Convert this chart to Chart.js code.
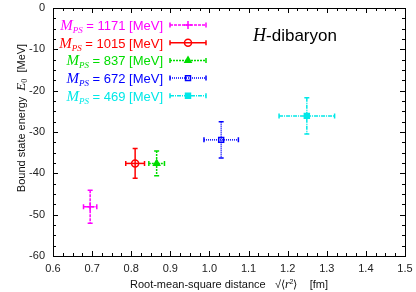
<!DOCTYPE html>
<html lang="en">
<head>
<meta charset="UTF-8">
<title>H-dibaryon bound state energy</title>
<script src="https://cdn.jsdelivr.net/npm/chart.js"></script>
<style>
    body { margin: 0; background: #fff; }
    #wrap { width: 416px; height: 292px; }
</style>
</head>
<body>
<div id="wrap"><canvas id="chart"></canvas></div>
<script>
    // values
    const masses = [1171, 1015, 837, 672, 469];           // M_PS [MeV]
    const rmsDist = [0.695, 0.810, 0.865, 1.030, 1.249];  // sqrt(<r^2>) [fm]
    const rmsErr = [0.017, 0.024, 0.020, 0.044, 0.071];
    const energy = [-48.1, -37.6, -37.6, -31.9, -26.1];   // E0 [MeV]
    const energyErr = [4.0, 3.6, 3.0, 4.4, 4.4];
    const xTicks = [0.6, 0.7, 0.8, 0.9, 1.0, 1.1, 1.2, 1.3, 1.4, 1.5];
    const yTicks = [-60, -50, -40, -30, -20, -10, 0];

    const colors = ['#ff00ff', '#ff0000', '#00dd00', '#0000ff', '#00e8e8'];
    const markers = ['cross', 'circle', 'triangle', 'rect', 'rect'];
    const filled = [false, false, true, false, true];
    const dashes = [[3, 1], [], [2, 1], [1, 1], [4, 1, 1, 1]];

    const SANS = '"Liberation Sans", Arial, sans-serif';
    const SERIF = '"Liberation Serif", "Times New Roman", serif';

    function markerOpts(i) {
        return {
            pointStyle: markers[i],
            radius: markers[i] === 'cross' ? 4 : 3.5,
            borderWidth: 1.5,
            rotation: 0
        };
    }

    // draws pieces of text with different fonts one after the other
    function drawRuns(ctx, runs, x, y, align, color) {
        let total = 0;
        runs.forEach(r => { ctx.font = r.font; total += ctx.measureText(r.t).width; });
        let cx = align === 'right' ? x - total : align === 'center' ? x - total / 2 : x;
        ctx.fillStyle = color;
        ctx.textAlign = 'left';
        ctx.textBaseline = 'alphabetic';
        runs.forEach(r => {
            ctx.font = r.font;
            ctx.fillText(r.t, cx, y + (r.dy || 0));
            cx += ctx.measureText(r.t).width;
        });
    }

    function errorBar(ctx, x1, y1, x2, y2, vertical) {
        const c = 2.5;
        ctx.beginPath();
        ctx.moveTo(x1, y1);
        ctx.lineTo(x2, y2);
        ctx.stroke();
        ctx.setLineDash([]);
        ctx.beginPath();
        if (vertical) {
            ctx.moveTo(x1 - c, y1); ctx.lineTo(x1 + c, y1);
            ctx.moveTo(x2 - c, y2); ctx.lineTo(x2 + c, y2);
        } else {
            ctx.moveTo(x1, y1 - c); ctx.lineTo(x1, y1 + c);
            ctx.moveTo(x2, y2 - c); ctx.lineTo(x2, y2 + c);
        }
        ctx.stroke();
    }

    // frame and inward ticks (gnuplot look)
    const framePlugin = {
        id: 'frame',
        afterDraw(chart) {
            const ctx = chart.ctx;
            const a = chart.chartArea;
            const xs = chart.scales.x, ys = chart.scales.y;
            ctx.save();
            ctx.strokeStyle = '#000';
            ctx.lineWidth = 1;
            ctx.strokeRect(Math.round(a.left) + 0.5, Math.round(a.top) + 0.5,
                Math.round(a.right - a.left), Math.round(a.bottom - a.top));
            ctx.beginPath();
            for (let v = 0.6; v <= 1.5001; v += 0.025) {
                const major = Math.abs(v * 10 - Math.round(v * 10)) < 1e-6;
                const len = major ? 5 : 3;
                const px = Math.round(xs.getPixelForValue(v)) + 0.5;
                ctx.moveTo(px, a.bottom); ctx.lineTo(px, a.bottom - len);
                ctx.moveTo(px, a.top); ctx.lineTo(px, a.top + len);
            }
            for (let v = -60; v <= 0.001; v += 2.5) {
                const major = v % 10 === 0;
                const len = major ? 5 : 3;
                const py = Math.round(ys.getPixelForValue(v)) + 0.5;
                ctx.moveTo(a.left, py); ctx.lineTo(a.left + len, py);
                ctx.moveTo(a.right, py); ctx.lineTo(a.right - len, py);
            }
            ctx.stroke();

            // axis titles
            drawRuns(ctx, [
                { t: 'Root-mean-square distance   \u221A\u27E8', font: '11px ' + SANS },
                { t: 'r', font: 'italic 12px ' + SERIF },
                { t: '2', font: '7px ' + SANS, dy: -4 },
                { t: '\u27E9    [fm]', font: '11px ' + SANS }
            ], (a.left + a.right) / 2, 288, 'center', '#111');

            ctx.translate(21, 118);
            ctx.rotate(-Math.PI / 2);
            drawRuns(ctx, [
                { t: 'Bound state energy  ', font: '11px ' + SANS },
                { t: 'E', font: 'italic 13px ' + SERIF },
                { t: '0', font: '8px ' + SERIF, dy: 2 },
                { t: '  [MeV]', font: '11px ' + SANS }
            ], 0, 4, 'center', '#111');
            ctx.restore();

            ctx.save();
            drawRuns(ctx, [
                { t: 'H', font: 'italic 18px ' + SERIF },
                { t: '-dibaryon', font: '17px ' + SANS }
            ], 295, 41, 'center', '#000');
            ctx.restore();
        }
    };

    // x and y error bars, drawn under the markers
    const errorPlugin = {
        id: 'errorbars',
        beforeDatasetsDraw(chart) {
            const ctx = chart.ctx;
            const xs = chart.scales.x, ys = chart.scales.y;
            ctx.save();
            ctx.lineWidth = 1.5;
            rmsDist.forEach((x, i) => {
                ctx.strokeStyle = colors[i];
                const px = xs.getPixelForValue(x);
                const py = ys.getPixelForValue(energy[i]);
                ctx.setLineDash(dashes[i]);
                errorBar(ctx, xs.getPixelForValue(x - rmsErr[i]), py, xs.getPixelForValue(x + rmsErr[i]), py, false);
                ctx.setLineDash(dashes[i]);
                errorBar(ctx, px, ys.getPixelForValue(energy[i] + energyErr[i]), px, ys.getPixelForValue(energy[i] - energyErr[i]), true);
            });
            ctx.restore();
        }
    };

    // legend: coloured text, right aligned, with a sample bar and marker
    const legendPlugin = {
        id: 'keys',
        afterDraw(chart) {
            const ctx = chart.ctx;
            ctx.save();
            masses.forEach((m, i) => {
                const y = 25 + i * 17.7;
                drawRuns(ctx, [
                    { t: 'M', font: 'italic 15px ' + SERIF },
                    { t: 'PS', font: 'italic 9px ' + SERIF, dy: 3 },
                    { t: ' = ' + m + ' [MeV]', font: '13px ' + SANS }
                ], 163, y + 5, 'right', colors[i]);
                ctx.strokeStyle = colors[i];
                ctx.fillStyle = colors[i];
                ctx.lineWidth = 1.5;
                ctx.setLineDash(dashes[i]);
                errorBar(ctx, 170, y, 206, y, false);
                ctx.fillStyle = filled[i] ? colors[i] : 'rgba(0,0,0,0)';
                Chart.helpers.drawPoint(ctx, markerOpts(i), 188, y);
            });
            ctx.restore();
        }
    };

    const datasets = masses.map((m, i) => ({
        label: 'M_PS = ' + m + ' [MeV]',
        data: [{ x: rmsDist[i], y: energy[i] }],
        pointStyle: markers[i],
        pointRadius: markerOpts(i).radius,
        pointBorderWidth: 1.5,
        borderColor: colors[i],
        backgroundColor: filled[i] ? colors[i] : 'rgba(0,0,0,0)',
        showLine: false
    }));

    new Chart(document.getElementById('chart'), {
        type: 'scatter',
        data: { datasets: datasets },
        options: {
            responsive: true,
            maintainAspectRatio: false,
            animation: false,
            layout: { padding: { top: 8, right: 11, left: 0, bottom: 0 } },
            plugins: {
                legend: { display: false },
                tooltip: { enabled: false }
            },
            scales: {
                x: {
                    type: 'linear',
                    min: 0.6,
                    max: 1.5,
                    afterBuildTicks: s => { s.ticks = xTicks.map(v => ({ value: v })); },
                    afterFit: s => { s.height = 36; s.paddingLeft = 0; s.paddingRight = 0; },
                    grid: { display: false, drawTicks: false },
                    border: { display: false },
                    ticks: {
                        color: '#222',
                        font: { family: SANS, size: 11 },
                        padding: 6,
                        maxRotation: 0,
                        callback: v => Number(v).toFixed(1)
                    }
                },
                y: {
                    min: -60,
                    max: 0,
                    afterBuildTicks: s => { s.ticks = yTicks.map(v => ({ value: v })); },
                    afterFit: s => { s.width = 53; s.paddingTop = 0; s.paddingBottom = 0; },
                    grid: { display: false, drawTicks: false },
                    border: { display: false },
                    ticks: {
                        color: '#222',
                        font: { family: SANS, size: 11 },
                        padding: 8,
                        callback: v => String(v)
                    }
                }
            }
        },
        plugins: [errorPlugin, framePlugin, legendPlugin]
    });
</script>
</body>
</html>
